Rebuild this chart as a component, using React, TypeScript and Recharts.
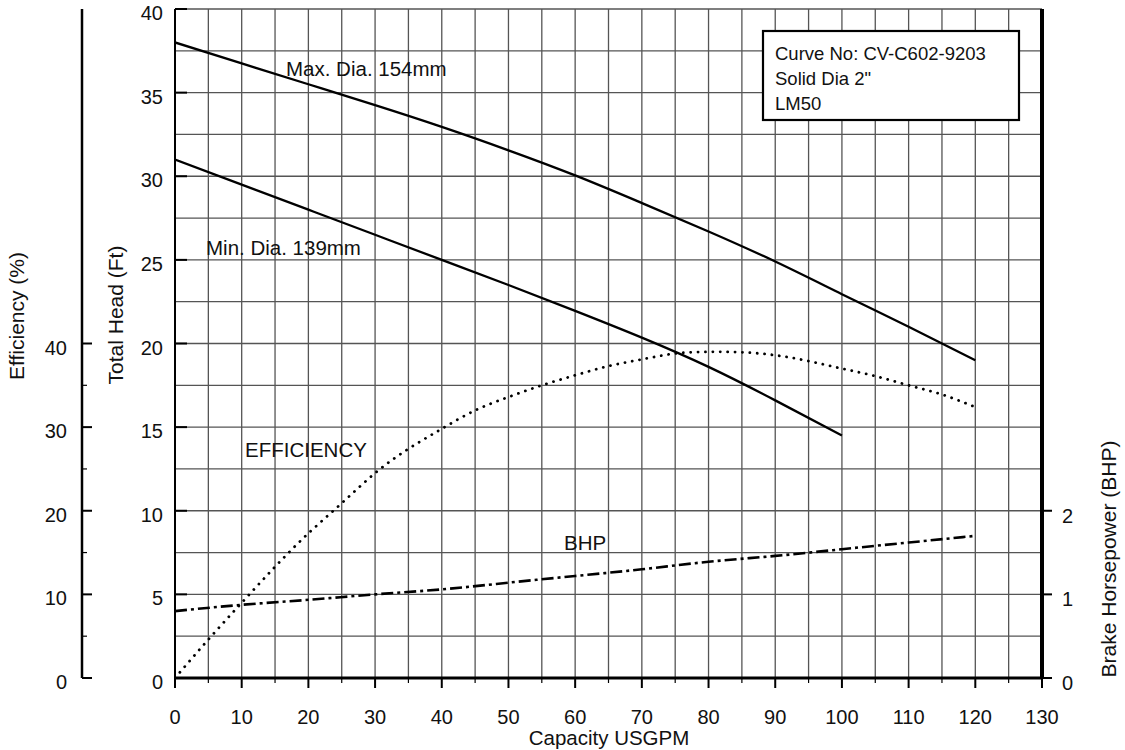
import { CartesianGrid, Line, LineChart, XAxis, YAxis } from 'recharts'

// axis ticks
const capacityTicks = [0, 5, 10, 15, 20, 25, 30, 35, 40, 45, 50, 55, 60, 65, 70, 75, 80, 85, 90, 95, 100, 105, 110, 115, 120, 125, 130]
const headTicks = [0, 2.5, 5, 7.5, 10, 12.5, 15, 17.5, 20, 22.5, 25, 27.5, 30, 32.5, 35, 37.5, 40]
const efficiencyTicks = [0, 5, 10, 15, 20, 25, 30, 35, 40]
const bhpTicks = [0, 1, 2]

// Max. Dia. 154mm head curve (ft)
const maxDiaCapacity = [0, 10, 20, 30, 40, 50, 60, 70, 80, 90, 100, 110, 120]
const maxDiaHead = [38.0, 36.75, 35.5, 34.25, 32.95, 31.55, 30.05, 28.4, 26.7, 24.9, 22.95, 21.0, 19.0]

// Min. Dia. 139mm head curve (ft)
const minDiaCapacity = [0, 10, 20, 30, 40, 50, 60, 70, 80, 90, 100]
const minDiaHead = [31.0, 29.5, 28.0, 26.5, 25.0, 23.5, 21.95, 20.35, 18.6, 16.6, 14.5]

// efficiency (%)
const effCapacity = [0, 5, 10, 15, 20, 25, 30, 35, 40, 45, 50, 55, 60, 65, 70, 75, 80, 85, 90, 95, 100, 105, 110, 115, 120]
const effValues = [0, 4.6, 9.0, 13.3, 17.3, 20.9, 24.5, 27.4, 29.8, 32.0, 33.6, 35.0, 36.2, 37.3, 38.1, 38.8, 39.0, 38.95, 38.6, 37.9, 37.0, 36.1, 35.0, 33.9, 32.4]

// brake horsepower
const bhpCapacity = [0, 10, 20, 30, 40, 50, 60, 70, 80, 90, 100, 110, 120]
const bhpValues = [0.8, 0.875, 0.935, 1.0, 1.06, 1.14, 1.22, 1.3, 1.39, 1.46, 1.54, 1.62, 1.7]

const infoLines = ['Curve No: CV-C602-9203', 'Solid Dia 2"', 'LM50']

const FONT = '"Liberation Sans", Arial, Helvetica, sans-serif'

const toPoints = (xs: number[], ys: number[]) => xs.map((q, i) => ({ q, v: ys[i] }))
const maxDia = toPoints(maxDiaCapacity, maxDiaHead)
const minDia = toPoints(minDiaCapacity, minDiaHead)
const efficiency = toPoints(effCapacity, effValues)
const bhp = toPoints(bhpCapacity, bhpValues)

function CapacityTick({ x, y, payload }: any) {
  const v = payload.value as number
  const major = v % 10 === 0
  return (
    <g>
      <line x1={x} x2={x} y1={y} y2={y + (major ? 10 : 5)} stroke="#000" strokeWidth={major ? 2 : 1.2} />
      {major && (
        <text x={x} y={y + 46} textAnchor="middle" fontSize={20} fontFamily={FONT} fill="#111">
          {v}
        </text>
      )}
    </g>
  )
}

function HeadTick({ x, y, payload }: any) {
  const v = payload.value as number
  if (v % 5 !== 0) return <g />
  return (
    <g>
      <line x1={x} x2={x + 12} y1={y} y2={y} stroke="#000" strokeWidth={2} />
      <text x={x - 12} y={y + 11} textAnchor="end" fontSize={20} fontFamily={FONT} fill="#111">
        {v}
      </text>
    </g>
  )
}

function EffTick({ x, y, payload }: any) {
  const v = payload.value as number
  const major = v % 10 === 0
  return (
    <g>
      <line x1={x} x2={x + (major ? 10 : 5)} y1={y} y2={y} stroke="#000" strokeWidth={major ? 2 : 1.2} />
      {major && (
        <text x={x - 15} y={y + 11} textAnchor="end" fontSize={20} fontFamily={FONT} fill="#111">
          {v}
        </text>
      )}
    </g>
  )
}

function BhpTick({ x, y, payload }: any) {
  const v = payload.value as number
  return (
    <g>
      <line x1={x} x2={x + 10} y1={y} y2={y} stroke="#000" strokeWidth={2} />
      <text x={x + 20} y={y + 12} textAnchor="start" fontSize={20} fontFamily={FONT} fill="#111">
        {v}
      </text>
    </g>
  )
}

export default function App() {
  return (
    <div style={{ position: 'absolute', left: 0, top: 0, width: 1125, height: 750, background: '#fff' }}>
      <LineChart width={1125} height={750} margin={{ top: 9, right: 0, bottom: 22, left: 0 }}>
        <CartesianGrid yAxisId="head" stroke="#555" strokeWidth={1.3} />
        <XAxis
          dataKey="q"
          type="number"
          domain={[0, 130]}
          ticks={capacityTicks}
          interval={0}
          height={50}
          tickSize={0}
          tickMargin={0}
          tickLine={false}
          axisLine={{ stroke: '#000', strokeWidth: 3 }}
          tick={<CapacityTick />}
          allowDataOverflow
        />
        <YAxis
          yAxisId="pct"
          orientation="left"
          type="number"
          domain={[0, 80]}
          ticks={efficiencyTicks}
          interval={0}
          width={82}
          tickSize={0}
          tickMargin={0}
          tickLine={false}
          axisLine={{ stroke: '#000', strokeWidth: 2.5 }}
          tick={<EffTick />}
        />
        <YAxis
          yAxisId="head"
          orientation="left"
          type="number"
          domain={[0, 40]}
          ticks={headTicks}
          interval={0}
          width={93}
          tickSize={0}
          tickMargin={0}
          tickLine={false}
          axisLine={{ stroke: '#000', strokeWidth: 2 }}
          tick={<HeadTick />}
        />
        <YAxis
          yAxisId="bhp"
          orientation="right"
          type="number"
          domain={[0, 8]}
          ticks={bhpTicks}
          interval={0}
          width={83}
          tickSize={0}
          tickMargin={0}
          tickLine={false}
          axisLine={{ stroke: '#000', strokeWidth: 4 }}
          tick={<BhpTick />}
        />
        <Line yAxisId="head" data={maxDia} dataKey="v" type="natural" stroke="#000" strokeWidth={2.3} dot={false} isAnimationActive={false} />
        <Line yAxisId="head" data={minDia} dataKey="v" type="natural" stroke="#000" strokeWidth={2.3} dot={false} isAnimationActive={false} />
        <Line
          yAxisId="pct"
          data={efficiency}
          dataKey="v"
          type="natural"
          stroke="#000"
          strokeWidth={2.8}
          strokeLinecap="round"
          strokeDasharray="0.1 7.3"
          dot={false}
          isAnimationActive={false}
        />
        <Line
          yAxisId="bhp"
          data={bhp}
          dataKey="v"
          type="natural"
          stroke="#000"
          strokeWidth={2.6}
          strokeDasharray="12 4 3 4"
          dot={false}
          isAnimationActive={false}
        />
      </LineChart>
      <svg
        width={1125}
        height={750}
        style={{ position: 'absolute', left: 0, top: 0, pointerEvents: 'none' }}
        fontFamily={FONT}
        fill="#111"
      >
        <text x={286} y={76} fontSize={20.5}>Max. Dia. 154mm</text>
        <text x={206} y={255} fontSize={20.5}>Min. Dia. 139mm</text>
        <text x={245} y={457} fontSize={20.5}>EFFICIENCY</text>
        <text x={564} y={550} fontSize={20.5}>BHP</text>
        <rect x={763} y={31} width={256} height={89} fill="#fff" stroke="#000" strokeWidth={2.2} />
        {infoLines.map((t, i) => (
          <text key={t} x={775} y={60 + i * 25} fontSize={18.5}>
            {t}
          </text>
        ))}
        <text x={609} y={745} fontSize={20.5} textAnchor="middle">Capacity USGPM</text>
        <text transform="translate(24 316) rotate(-90)" fontSize={21} textAnchor="middle">Efficiency (%)</text>
        <text transform="translate(123 315) rotate(-90)" fontSize={21} textAnchor="middle">Total Head (Ft)</text>
        <text transform="translate(1116 559) rotate(-90)" fontSize={21} textAnchor="middle">Brake Horsepower (BHP)</text>
      </svg>
    </div>
  )
}
